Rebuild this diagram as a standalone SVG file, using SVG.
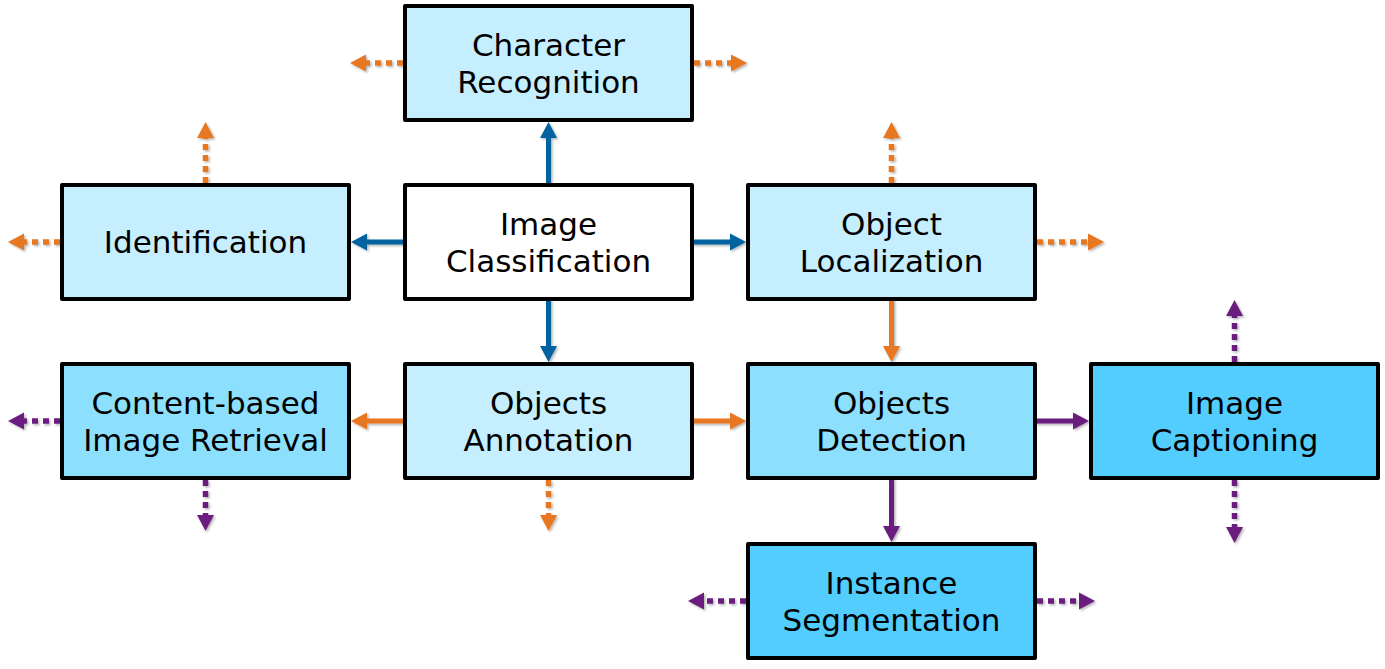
<svg xmlns="http://www.w3.org/2000/svg" width="1385" height="669" viewBox="0 0 1385 669">
<style>
.box{stroke:#000;stroke-width:4;stroke-linejoin:round}
.l1{fill:#c5eefe}.l2{fill:#8ce0fe}.l3{fill:#52cdfe}.w{fill:#fff}
text{font-family:"DejaVu Sans","Verdana",sans-serif;font-size:31px;fill:#000;text-anchor:middle}
.c line{stroke-width:5;fill:none}
.c line.d{stroke-width:5.5;stroke-dasharray:6 5}
.b{stroke:#0563a0}.o{stroke:#e87722}.p{stroke:#6b1f7f}
</style>
<defs>
<filter id="sh" x="-20%" y="-20%" width="140%" height="140%"><feDropShadow dx="1.5" dy="1.5" stdDeviation="1.2" flood-color="#000" flood-opacity="0.3"/></filter>
<marker id="mb" markerUnits="userSpaceOnUse" markerWidth="17" markerHeight="18" refX="0" refY="8.5" orient="auto" overflow="visible"><path d="M0,0 L16,8.5 L0,17 Z" fill="#0563a0"/></marker>
<marker id="mo" markerUnits="userSpaceOnUse" markerWidth="17" markerHeight="18" refX="0" refY="8.5" orient="auto" overflow="visible"><path d="M0,0 L16,8.5 L0,17 Z" fill="#e87722"/></marker>
<marker id="mp" markerUnits="userSpaceOnUse" markerWidth="17" markerHeight="18" refX="0" refY="8.5" orient="auto" overflow="visible"><path d="M0,0 L16,8.5 L0,17 Z" fill="#6b1f7f"/></marker>
</defs>
<g id="connectors" class="c" filter="url(#sh)">
<line class="b" x1="548.5" y1="185" x2="548.5" y2="138" marker-end="url(#mb)"/>
<line class="b" x1="405" y1="242" x2="367" y2="242" marker-end="url(#mb)"/>
<line class="b" x1="692" y1="242" x2="730" y2="242" marker-end="url(#mb)"/>
<line class="b" x1="548.5" y1="299" x2="548.5" y2="346" marker-end="url(#mb)"/>
<line class="o" x1="891.5" y1="299" x2="891.5" y2="346" marker-end="url(#mo)"/>
<line class="o" x1="405" y1="421" x2="367" y2="421" marker-end="url(#mo)"/>
<line class="o" x1="692" y1="421" x2="730" y2="421" marker-end="url(#mo)"/>
<line class="p" x1="1035" y1="421" x2="1073" y2="421" marker-end="url(#mp)"/>
<line class="p" x1="891.5" y1="478" x2="891.5" y2="526" marker-end="url(#mp)"/>
<line class="o d" x1="403" y1="63" x2="366" y2="63" marker-end="url(#mo)"/>
<line class="o d" x1="694" y1="63" x2="731" y2="63" marker-end="url(#mo)"/>
<line class="o d" x1="205.5" y1="183" x2="205.5" y2="138" marker-end="url(#mo)"/>
<line class="o d" x1="60" y1="242" x2="24" y2="242" marker-end="url(#mo)"/>
<line class="o d" x1="891.5" y1="183" x2="891.5" y2="138" marker-end="url(#mo)"/>
<line class="o d" x1="1037" y1="242" x2="1088" y2="242" marker-end="url(#mo)"/>
<line class="o d" x1="548.5" y1="480" x2="548.5" y2="515" marker-end="url(#mo)"/>
<line class="p d" x1="60" y1="421" x2="24" y2="421" marker-end="url(#mp)"/>
<line class="p d" x1="205.5" y1="480" x2="205.5" y2="515" marker-end="url(#mp)"/>
<line class="p d" x1="1234.5" y1="362" x2="1234.5" y2="316" marker-end="url(#mp)"/>
<line class="p d" x1="1234.5" y1="480" x2="1234.5" y2="527" marker-end="url(#mp)"/>
<line class="p d" x1="746" y1="601" x2="704" y2="601" marker-end="url(#mp)"/>
<line class="p d" x1="1037" y1="601" x2="1079" y2="601" marker-end="url(#mp)"/>
</g>
<g id="character-recognition"><rect class="box l1" x="405" y="6" width="287" height="114"/><text x="548.5" y="56">Character</text><text x="548.5" y="93">Recognition</text></g>
<g id="identification"><rect class="box l1" x="62" y="185" width="287" height="114"/><text x="205.5" y="253">Identification</text></g>
<g id="image-classification"><rect class="box w" x="405" y="185" width="287" height="114"/><text x="548.5" y="235">Image</text><text x="548.5" y="272">Classification</text></g>
<g id="object-localization"><rect class="box l1" x="748" y="185" width="287" height="114"/><text x="891.5" y="235">Object</text><text x="891.5" y="272">Localization</text></g>
<g id="content-based-image-retrieval"><rect class="box l2" x="62" y="364" width="287" height="114"/><text x="205.5" y="414">Content-based</text><text x="205.5" y="451">Image Retrieval</text></g>
<g id="objects-annotation"><rect class="box l1" x="405" y="364" width="287" height="114"/><text x="548.5" y="414">Objects</text><text x="548.5" y="451">Annotation</text></g>
<g id="objects-detection"><rect class="box l2" x="748" y="364" width="287" height="114"/><text x="891.5" y="414">Objects</text><text x="891.5" y="451">Detection</text></g>
<g id="image-captioning"><rect class="box l3" x="1091" y="364" width="287" height="114"/><text x="1234.5" y="414">Image</text><text x="1234.5" y="451">Captioning</text></g>
<g id="instance-segmentation"><rect class="box l3" x="748" y="544" width="287" height="114"/><text x="891.5" y="594">Instance</text><text x="891.5" y="631">Segmentation</text></g>
</svg>
